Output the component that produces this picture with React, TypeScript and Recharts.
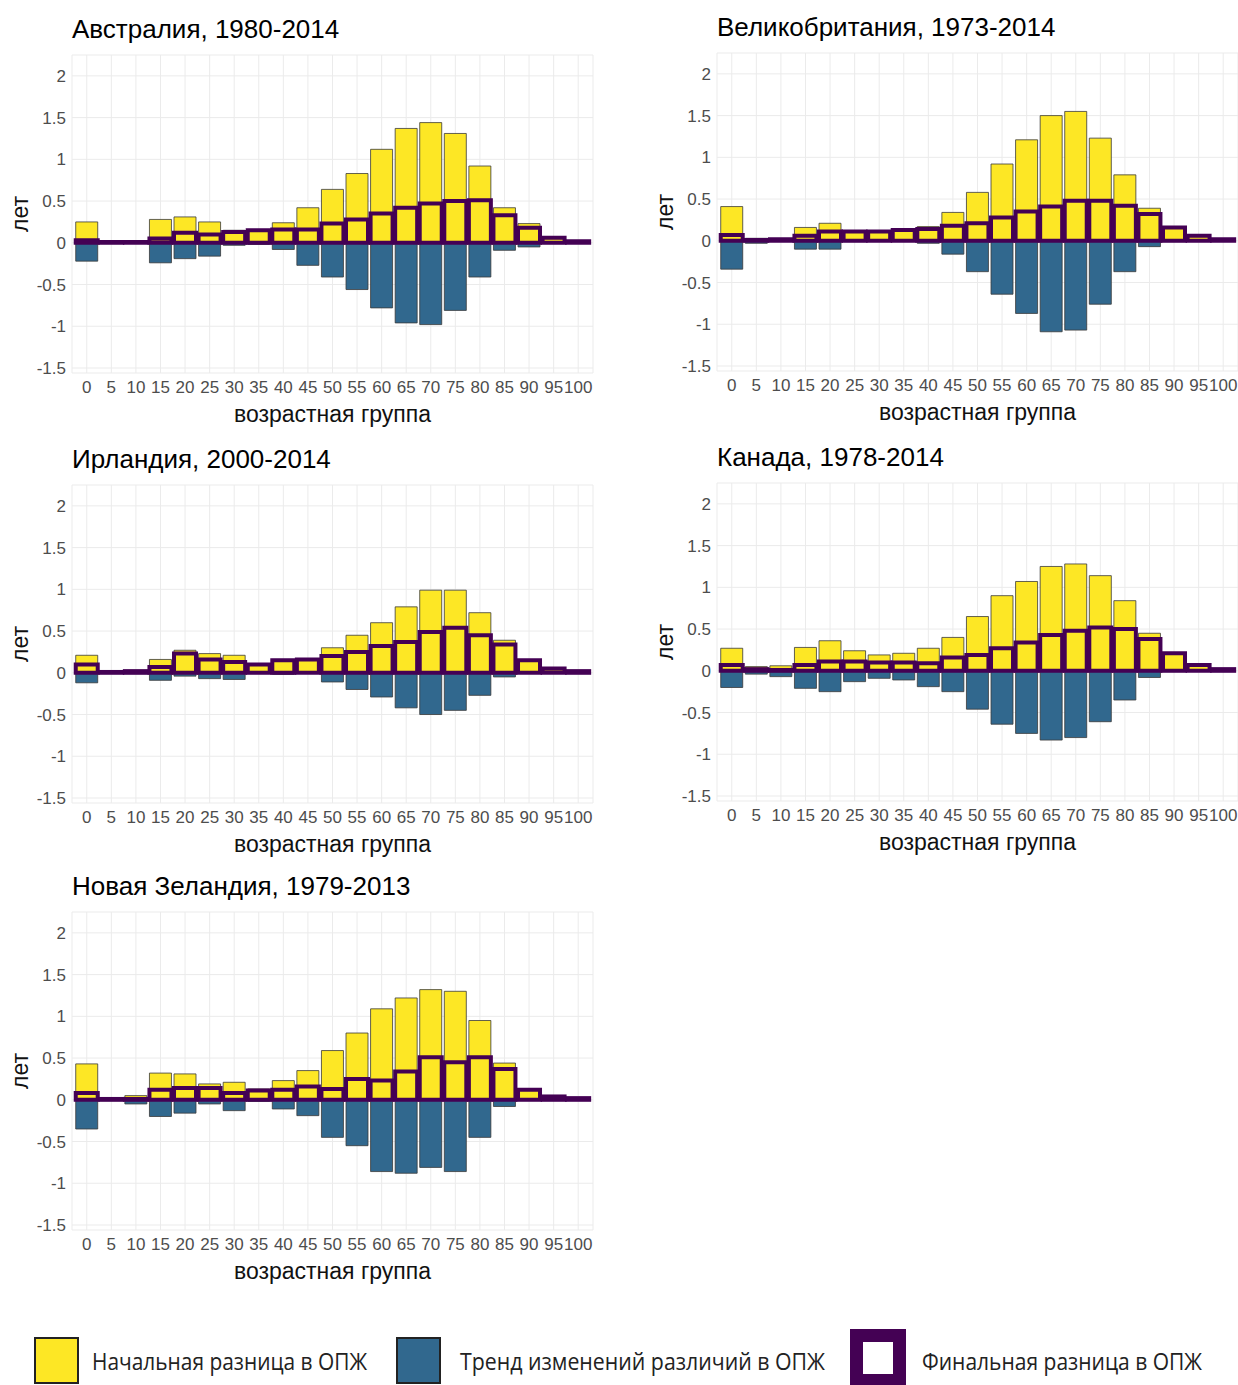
import { BarChart, Bar, XAxis, YAxis, CartesianGrid } from 'recharts'

const ages = ['0', '5', '10', '15', '20', '25', '30', '35', '40', '45', '50', '55', '60', '65', '70', '75', '80', '85', '90', '95', '100']
const yTicks = [-1.5, -1, -0.5, 0, 0.5, 1, 1.5, 2]

const ausInitial = [0.25, 0.01, 0.01, 0.28, 0.31, 0.25, 0.15, 0.16, 0.24, 0.42, 0.64, 0.83, 1.12, 1.37, 1.44, 1.31, 0.92, 0.42, 0.23, 0.06, 0.02]
const ausTrend = [-0.22, -0.01, 0, -0.24, -0.19, -0.16, -0.03, -0.02, -0.08, -0.27, -0.41, -0.56, -0.78, -0.96, -0.98, -0.81, -0.41, -0.09, -0.05, -0.01, 0]
const ausFinal = [0.03, 0.01, 0.01, 0.05, 0.12, 0.1, 0.13, 0.15, 0.16, 0.16, 0.23, 0.28, 0.35, 0.42, 0.47, 0.5, 0.51, 0.33, 0.18, 0.06, 0.02]

const gbrInitial = [0.41, 0.03, 0.02, 0.16, 0.21, 0.12, 0.11, 0.13, 0.17, 0.34, 0.58, 0.92, 1.21, 1.5, 1.55, 1.23, 0.79, 0.39, 0.17, 0.06, 0.02]
const gbrTrend = [-0.34, -0.03, 0, -0.1, -0.1, -0.01, 0, 0, -0.03, -0.16, -0.37, -0.64, -0.87, -1.09, -1.07, -0.76, -0.37, -0.07, -0.01, 0, 0]
const gbrFinal = [0.07, 0.01, 0.02, 0.06, 0.11, 0.11, 0.11, 0.13, 0.14, 0.18, 0.21, 0.28, 0.35, 0.41, 0.48, 0.48, 0.42, 0.32, 0.16, 0.06, 0.02]

const irlInitial = [0.21, 0.01, 0.02, 0.16, 0.27, 0.23, 0.21, 0.11, 0.16, 0.16, 0.3, 0.45, 0.6, 0.79, 0.99, 0.99, 0.72, 0.39, 0.15, 0.05, 0.02]
const irlTrend = [-0.12, 0, -0.01, -0.09, -0.04, -0.07, -0.08, -0.01, -0.02, 0, -0.11, -0.2, -0.29, -0.42, -0.5, -0.45, -0.27, -0.05, 0, 0, 0]
const irlFinal = [0.1, 0.01, 0.02, 0.07, 0.23, 0.16, 0.13, 0.1, 0.15, 0.16, 0.2, 0.25, 0.32, 0.37, 0.49, 0.54, 0.45, 0.34, 0.15, 0.05, 0.02]

const canInitial = [0.27, 0.05, 0.06, 0.28, 0.36, 0.24, 0.19, 0.21, 0.27, 0.4, 0.65, 0.9, 1.07, 1.25, 1.28, 1.14, 0.84, 0.45, 0.2, 0.07, 0.02]
const canTrend = [-0.2, -0.04, -0.07, -0.21, -0.25, -0.13, -0.09, -0.11, -0.19, -0.25, -0.46, -0.64, -0.75, -0.83, -0.8, -0.61, -0.35, -0.08, -0.01, 0, 0]
const canFinal = [0.07, 0.02, 0.01, 0.07, 0.11, 0.11, 0.1, 0.1, 0.09, 0.16, 0.19, 0.27, 0.34, 0.43, 0.48, 0.52, 0.5, 0.38, 0.21, 0.07, 0.02]

const nzlInitial = [0.43, 0.01, 0.05, 0.32, 0.31, 0.19, 0.21, 0.13, 0.23, 0.35, 0.59, 0.8, 1.09, 1.22, 1.32, 1.3, 0.95, 0.44, 0.12, 0.04, 0.02]
const nzlTrend = [-0.35, -0.01, -0.05, -0.2, -0.16, -0.05, -0.13, -0.02, -0.11, -0.19, -0.45, -0.55, -0.86, -0.88, -0.81, -0.86, -0.45, -0.08, -0.01, 0, 0]
const nzlFinal = [0.08, 0.01, 0.01, 0.12, 0.14, 0.14, 0.08, 0.11, 0.12, 0.16, 0.13, 0.25, 0.23, 0.34, 0.51, 0.45, 0.51, 0.37, 0.12, 0.04, 0.02]

const YELLOW = '#FDE725'
const BLUE = '#31688E'
const PURPLE = '#440154'

interface PanelProps {
  title: string
  left: number
  top: number
  initial: number[]
  trend: number[]
  final: number[]
}

function Panel({ title, left, top, initial, trend, final }: PanelProps) {
  const data = ages.map((age, i) => ({ age, initial: initial[i], trend: trend[i], final: final[i] }))

  return (
    <div style={{ position: 'absolute', left, top, width: 600, height: 440 }}>
      <div style={{ position: 'absolute', left: 72, top: 16, fontSize: 26, lineHeight: '26px', color: '#000', whiteSpace: 'nowrap' }}>
        {title}
      </div>
      <BarChart
        width={600}
        height={440}
        data={data}
        margin={{ top: 55, right: 7, bottom: 18, left: 0 }}
        stackOffset="sign"
        barCategoryGap="5%"
      >
        <CartesianGrid stroke="#ebebeb" strokeWidth={1} />
        <XAxis
          dataKey="age"
          interval={0}
          tickLine={false}
          axisLine={false}
          padding={{ left: 2.5, right: 2.5 }}
          height={49}
          tick={{ fontSize: 17, fill: '#4d4d4d' }}
          label={{ value: 'возрастная группа', position: 'insideBottom', offset: 0, fontSize: 23, fill: '#111' }}
        />
        <XAxis xAxisId="f" dataKey="age" hide padding={{ left: 2.5, right: 2.5 }} />
        <YAxis
          domain={[-1.56, 2.25]}
          ticks={yTicks}
          allowDataOverflow
          width={72}
          tickLine={false}
          axisLine={false}
          tickSize={4}
          tickMargin={2}
          tick={{ fontSize: 17, fill: '#4d4d4d' }}
          label={{ value: 'лет', angle: -90, position: 'insideLeft', offset: 20, fontSize: 23, fill: '#111', style: { textAnchor: 'middle' } }}
        />
        <Bar dataKey="initial" stackId="a" fill={YELLOW} stroke="#3a3a3a" strokeWidth={0.8} isAnimationActive={false} />
        <Bar dataKey="trend" stackId="a" fill={BLUE} stroke="#3a3a3a" strokeWidth={0.8} isAnimationActive={false} />
        <Bar dataKey="final" xAxisId="f" fill="none" stroke={PURPLE} strokeWidth={4} isAnimationActive={false} />
      </BarChart>
    </div>
  )
}

function Legend() {
  return (
    <svg width={1238} height={65} style={{ position: 'absolute', left: 0, top: 1320 }}>
      <rect x={35} y={18} width={43} height={45} fill={YELLOW} stroke="#222" strokeWidth={2} />
      <text x={92} y={50} fontSize={23} fill="#222" fontFamily="'Open Sans'" textLength={275} lengthAdjust="spacingAndGlyphs">
        Начальная разница в ОПЖ
      </text>
      <rect x={397} y={18} width={43} height={45} fill={BLUE} stroke="#222" strokeWidth={2} />
      <text x={460} y={50} fontSize={23} fill="#222" fontFamily="'Open Sans'" textLength={365} lengthAdjust="spacingAndGlyphs">
        Тренд изменений различий в ОПЖ
      </text>
      <rect x={856.5} y={15.5} width={43} height={45} fill="#fff" stroke={PURPLE} strokeWidth={13} />
      <text x={922} y={50} fontSize={23} fill="#222" fontFamily="'Open Sans'" textLength={280} lengthAdjust="spacingAndGlyphs">
        Финальная разница в ОПЖ
      </text>
    </svg>
  )
}

export default function App() {
  return (
    <div
      style={{
        position: 'absolute',
        left: 0,
        top: 0,
        width: 1238,
        height: 1385,
        background: '#fff',
        overflow: 'hidden',
        fontFamily: "'Liberation Sans', Arial, sans-serif",
      }}
    >
      <Panel title="Австралия, 1980-2014" left={0} top={0} initial={ausInitial} trend={ausTrend} final={ausFinal} />
      <Panel title="Великобритания, 1973-2014" left={645} top={-2} initial={gbrInitial} trend={gbrTrend} final={gbrFinal} />
      <Panel title="Ирландия, 2000-2014" left={0} top={430} initial={irlInitial} trend={irlTrend} final={irlFinal} />
      <Panel title="Канада, 1978-2014" left={645} top={428} initial={canInitial} trend={canTrend} final={canFinal} />
      <Panel title="Новая Зеландия, 1979-2013" left={0} top={857} initial={nzlInitial} trend={nzlTrend} final={nzlFinal} />
      <Legend />
    </div>
  )
}
